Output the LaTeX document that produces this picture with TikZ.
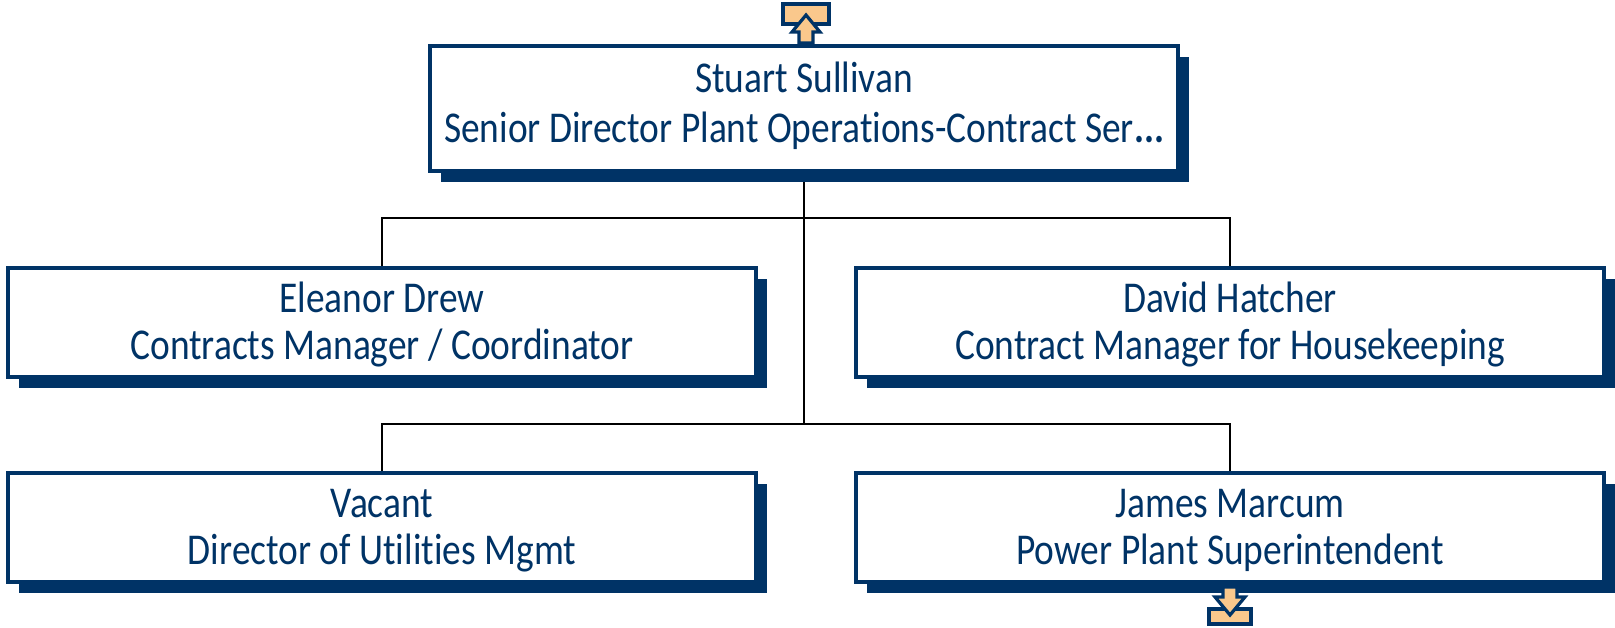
\documentclass[tikz,border=0pt]{standalone}
\usepackage{fontspec}
\setmainfont[FakeStretch=0.85,Ligatures=NoCommon]{Carlito}
\usetikzlibrary{shadows,backgrounds}
\definecolor{navy}{RGB}{0,51,102}
\definecolor{peach}{RGB}{250,200,140}

\begin{document}
\begin{tikzpicture}[x=0.5pt,y=-0.5pt,font=\fontsize{22}{26}\selectfont,
    card/.style={draw=navy, line width=2pt, fill=white, minimum width=374pt,
      minimum height=54.5pt, inner sep=0pt,
      drop shadow={shadow xshift=5.5pt, shadow yshift=-5.5pt, fill=navy, opacity=1}},
    who/.style={text=navy, anchor=base, inner sep=0pt},
    role/.style={text=navy, anchor=base, inner sep=0pt},
    link/.style={draw=black, line width=0.8pt},
    knob/.style={draw=navy, line width=1.6pt, fill=peach, line join=miter}]
  \useasboundingbox (0,0) rectangle (1615,627);

  % boxes
  \node[card, minimum height=62.5pt] (sully) at (804,108) {};
  \node[card] (drew) at (382,322) {};
  \node[card] (hatcher) at (1230,322) {};
  \node[card] (vacant) at (382,527) {};
  \node[card] (marcum) at (1230,527) {};

  % names and titles
  \node[who] (sullyN) at (804,92) {Stuart Sullivan};
  \node[role] (sullyT) at (804,142) {Senior Director Plant Operations-Contract Ser\textbf{...}};
  \node[who] (drewN) at (382,312) {Eleanor Drew};
  \node[role] (drewT) at (382,359) {Contracts Manager / Coordinator};
  \node[who] (hatcherN) at (1230,312) {David Hatcher};
  \node[role] (hatcherT) at (1230,359) {Contract Manager for Housekeeping};
  \node[who] (vacantN) at (382,517) {Vacant};
  \node[role] (vacantT) at (382,564) {Director of Utilities Mgmt};
  \node[who] (marcumN) at (1230,517) {James Marcum};
  \node[role] (marcumT) at (1230,564) {Power Plant Superintendent};

  % connectors
  \coordinate (j1) at (804,218);
  \coordinate (j2) at (804,424);
  \begin{scope}[on background layer]
    \draw[link] (sully.south) -- (j2);
    \draw[link] (drew.north) |- (j1) -| (hatcher.north);
    \draw[link] (vacant.north) |- (j2) -| (marcum.north);
  \end{scope}

  % expand buttons
  \draw[knob] (783,4) rectangle (829,24);
  \draw[knob] (799,43) -- (799,32) -- (792,32) -- (806,15) -- (820,32)
    -- (813,32) -- (813,43) -- cycle;
  \draw[knob] (1209,609) rectangle (1251,624);
  \draw[knob] (1223,587) -- (1223,597) -- (1215,597) -- (1230,615) -- (1245,597)
    -- (1237,597) -- (1237,587) -- cycle;
\end{tikzpicture}
\end{document}
